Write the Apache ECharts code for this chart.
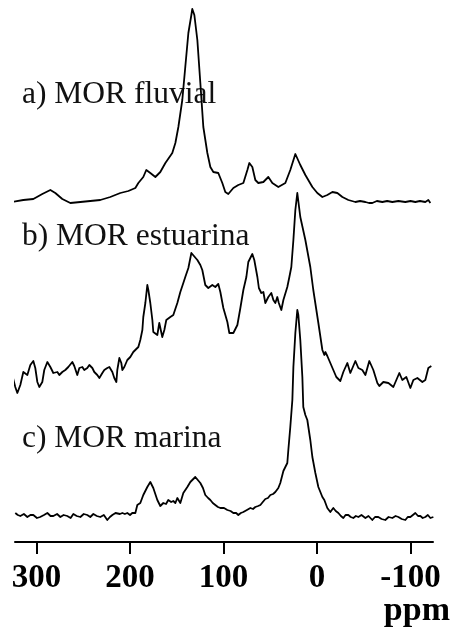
<!DOCTYPE html>
<html>
<head>
<meta charset="utf-8">
<script src="https://cdn.jsdelivr.net/npm/echarts@6/dist/echarts.min.js"></script>
<style>
  html, body { margin: 0; padding: 0; background: #fff; }
  #chart { width: 458px; height: 627px; }
</style>
</head>
<body>
<div id="chart"></div>
<script>
// 13C CP-MAS NMR spectra of refractory organic matter, [ppm, intensity]
const spectrumFluvial = [
  [326.2, 0], [314.1, 2], [303.4, 3], [293.8, 8], [285.2, 12], [279.9, 9], [272.4, 3],
  [263.8, -1], [253.1, 0], [242.5, 1], [231.8, 2], [221.1, 5], [210.4, 9], [201.8, 11],
  [194.3, 14], [191.1, 19], [185.8, 25], [182.6, 32], [178.3, 29], [172.9, 25], [167.6, 30],
  [162.2, 39], [154.8, 49], [151.5, 59], [148.3, 75], [144.1, 102], [140.9, 135], [137.6, 169],
  [134.4, 187], [133.4, 193], [131.2, 187], [128.0, 162], [124.8, 119], [121.6, 75], [117.3, 49],
  [114.1, 35], [110.9, 30], [105.6, 29], [101.3, 19], [98.1, 10], [94.9, 8], [89.5, 14],
  [84.2, 17], [78.8, 19], [74.5, 32], [72.4, 39], [69.2, 35], [66.0, 22], [62.8, 19],
  [57.4, 20], [52.1, 25], [47.8, 19], [41.4, 15], [33.9, 19], [28.6, 32], [23.2, 48],
  [17.9, 37], [12.5, 27], [5.0, 15], [-0.3, 9], [-5.7, 5], [-11.0, 7], [-16.4, 10],
  [-21.7, 9], [-27.1, 5], [-33.5, 2], [-41.0, 0], [-46.0, 1], [-51.7, 0], [-55.5, -1],
  [-59.1, -1], [-64.0, 1], [-69.8, 0], [-75.0, 1], [-80.5, 0], [-87.0, 1], [-94.4, 0],
  [-100.0, 1], [-105.1, 0], [-110.0, 1], [-115.8, 0], [-119.0, 2], [-121.2, -1]
];

const spectrumEstuarine = [
  [325.1, 0], [322.7, -9], [320.5, -15], [317.3, -7], [314.1, 6], [309.8, 3], [306.6, 13],
  [303.4, 17], [301.3, 10], [299.1, -4], [297.0, -9], [293.8, -4], [291.7, 8], [288.4, 16],
  [285.2, 11], [282.0, 5], [277.7, 6], [275.6, 3], [272.4, 6], [269.2, 8], [266.0, 11],
  [261.7, 16], [259.6, 12], [256.4, 3], [254.2, 10], [251.0, 11], [248.9, 8], [245.7, 10],
  [243.5, 13], [240.3, 10], [238.2, 6], [235.0, 3], [232.8, 0], [229.6, 5], [227.5, 8],
  [224.3, 10], [222.1, 11], [218.9, 6], [216.8, 0], [214.6, -4], [213.6, 8], [211.4, 20],
  [209.3, 15], [208.2, 8], [206.1, 11], [202.9, 18], [199.7, 21], [196.5, 26], [193.3, 29],
  [191.1, 31], [189.0, 38], [186.8, 48], [185.8, 61], [183.6, 75], [181.5, 93], [180.4, 88],
  [178.3, 75], [176.1, 58], [175.1, 46], [170.8, 43], [168.7, 55], [165.5, 41], [163.3, 48],
  [161.2, 58], [156.9, 61], [153.7, 63], [149.4, 75], [146.2, 86], [143.0, 95], [140.9, 101],
  [137.6, 110], [134.4, 125], [132.3, 123], [128.0, 118], [124.8, 113], [122.7, 108],
  [119.5, 93], [116.3, 90], [112.0, 93], [108.8, 91], [105.6, 94], [103.4, 86], [100.2, 70],
  [95.9, 56], [93.8, 45], [89.5, 45], [85.2, 53], [82.0, 70], [78.8, 88], [75.6, 101],
  [73.5, 116], [69.2, 124], [67.1, 118], [63.8, 101], [62.2, 90], [59.6, 85], [57.4, 86],
  [55.3, 75], [52.1, 81], [48.9, 85], [46.7, 78], [44.6, 75], [42.5, 81], [40.9, 75],
  [38.2, 68], [36.0, 78], [31.8, 91], [29.6, 101], [27.5, 111], [25.3, 138], [23.2, 168],
  [21.1, 185], [17.9, 161], [12.5, 138], [7.2, 111], [4.0, 88], [-1.4, 55], [-5.7, 28],
  [-7.8, 23], [-8.9, 26], [-11.0, 22], [-14.2, 15], [-17.4, 8], [-20.6, 1], [-24.9, -3],
  [-28.1, 6], [-32.4, 15], [-35.6, 5], [-41.0, 17], [-44.2, 10], [-48.4, 8], [-51.7, 3],
  [-55.9, 17], [-60.2, 8], [-64.5, -5], [-66.6, -8], [-70.9, -4], [-76.3, -5], [-81.6, -9],
  [-84.8, -2], [-88.0, 5], [-91.2, -2], [-95.5, 1], [-99.8, -10], [-103.0, -2], [-107.3, 0],
  [-112.6, -4], [-115.8, -2], [-119.0, 10], [-122.2, 12]
];

const spectrumMarine = [
  [322.7, 3], [320.0, 1], [317.3, 0], [313.5, 2], [309.8, -1], [306.5, 1], [303.4, 1],
  [299.5, -2], [296.1, -1], [292.0, 1], [288.4, 3], [285.0, 0], [282.0, 0], [278.0, 2],
  [274.5, -1], [271.0, 1], [267.1, 0], [263.5, -2], [260.6, 2], [257.0, 0], [253.1, -1],
  [249.5, 2], [245.7, 1], [242.5, -1], [239.2, 2], [235.5, 0], [231.8, -1], [228.0, 1],
  [224.3, -4], [221.5, -1], [218.9, 1], [215.5, 3], [213.6, 5], [210.8, 2], [208.2, 3],
  [205.5, 2], [202.9, 3], [200.0, 1], [197.6, 3], [194.3, 3], [192.2, 11], [189.0, 13],
  [185.8, 21], [181.5, 29], [178.3, 34], [175.1, 28], [170.8, 16], [167.6, 10], [164.4, 13],
  [161.5, 12], [159.1, 16], [156.0, 14], [153.7, 15], [151.5, 13], [149.4, 18], [146.2, 13],
  [143.0, 23], [138.7, 29], [135.5, 34], [130.2, 39], [127.5, 36], [124.8, 33], [122.0, 28],
  [119.5, 21], [116.5, 18], [114.1, 16], [111.5, 13], [108.8, 11], [106.0, 9], [103.4, 8],
  [99.5, 8], [95.9, 6], [92.5, 5], [89.5, 3], [86.5, 3], [84.2, 1], [81.5, 3], [78.8, 4],
  [75.0, 6], [71.3, 8], [68.5, 7], [66.0, 9], [63.0, 10], [60.6, 11], [58.0, 14], [55.3, 17],
  [52.5, 18], [49.9, 21], [47.0, 22], [44.6, 24], [42.8, 26], [41.4, 28], [39.3, 33],
  [36.0, 45], [31.8, 53], [30.7, 66], [28.6, 89], [26.4, 116], [25.3, 149], [23.2, 183],
  [21.1, 206], [20.0, 201], [17.9, 176], [15.7, 139], [14.7, 109], [12.5, 101], [10.4, 96],
  [7.2, 76], [5.0, 59], [1.8, 43], [-1.4, 29], [-5.7, 19], [-7.8, 16], [-11.0, 8],
  [-14.2, 4], [-17.4, 8], [-20.0, 5], [-22.8, 3], [-25.5, 0], [-28.1, -2], [-30.5, 1],
  [-33.5, 1], [-36.0, -1], [-38.8, -2], [-41.5, 0], [-44.2, -1], [-47.5, 1], [-51.7, -2],
  [-55.0, 0], [-59.1, -4], [-62.0, -1], [-65.5, -1], [-69.0, -3], [-73.0, -4], [-76.5, -1],
  [-80.5, -2], [-84.0, 0], [-87.0, -1], [-90.5, -3], [-94.4, -4], [-97.0, -1], [-99.8, -1],
  [-102.5, 1], [-105.1, 3], [-108.0, 0], [-110.5, 0], [-113.0, -2], [-115.8, -1],
  [-118.5, 1], [-121.2, -2], [-124.4, -1]
];

const spectrumNames = ['a) MOR fluvial', 'b) MOR estuarina', 'c) MOR marina'];
const ppmTicks = [300, 200, 100, 0, -100];

// vertical stacking of the three traces
const traceOffsets = [340, 164, 26];
const traceData = [spectrumFluvial, spectrumEstuarine, spectrumMarine];

const serif = '"Liberation Serif", "Times New Roman", serif';

const chart = echarts.init(document.getElementById('chart'), null, { renderer: 'canvas' });

const series = traceData.map((data, i) => ({
  type: 'line',
  name: spectrumNames[i],
  data: data.map(([ppm, v]) => [ppm, v + traceOffsets[i]]),
  showSymbol: false,
  smooth: false,
  clip: false,
  silent: true,
  animation: false,
  lineStyle: { color: '#000', width: 1.8, join: 'round' }
}));

// top edge of each trace caption
const labelTop = [79, 221, 423];

chart.setOption({
  animation: false,
  backgroundColor: '#fff',
  grid: { left: 15, right: 25, top: 0, bottom: 85, containLabel: false },
  xAxis: {
    type: 'value',
    min: -124,
    max: 323,
    inverse: true,
    axisLine: { show: true, lineStyle: { color: '#000', width: 2 } },
    axisTick: {
      show: true,
      customValues: ppmTicks,
      length: 12,
      lineStyle: { color: '#000', width: 2 }
    },
    axisLabel: {
      show: true,
      customValues: ppmTicks,
      margin: 20,
      color: '#000',
      fontFamily: serif,
      fontWeight: 'bold',
      fontSize: 33
    },
    splitLine: { show: false }
  },
  yAxis: {
    type: 'value',
    min: 0,
    max: 542,
    show: false
  },
  graphic: [
    ...spectrumNames.map((name, i) => ({
      type: 'text',
      left: 22,
      top: labelTop[i],
      style: {
        text: name,
        fill: '#111',
        font: '31.5px ' + serif
      }
    })),
    {
      type: 'text',
      right: 8,
      top: 594,
      style: {
        text: 'ppm',
        fill: '#000',
        font: 'bold 34px ' + serif
      }
    }
  ],
  series
});
</script>
</body>
</html>
